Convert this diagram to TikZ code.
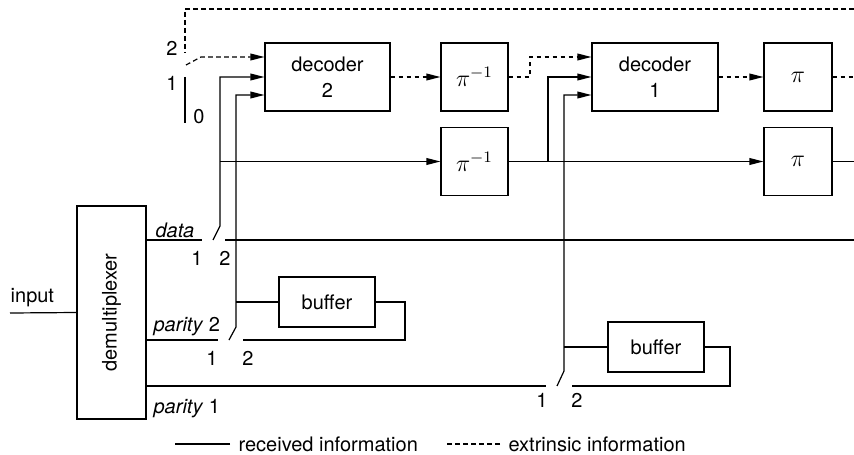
\documentclass[tikz,border=0pt]{standalone}
\usepackage{fontspec}
\setmainfont{TeX Gyre Heros}
\usetikzlibrary{arrows.meta,calc}

\begin{document}
\begin{tikzpicture}[x=0.5pt,y=-0.5pt,>={Triangle[length=7pt,width=3.4pt]},line width=0.6pt,font=\fontsize{10}{13}\selectfont,
box/.style={draw, line width=0.6pt, minimum height=34pt, align=center, inner sep=1pt},
dec/.style={box, minimum width=62.5pt},perm/.style={box, minimum width=33.5pt, font=\fontsize{12}{14}\selectfont},
buf/.style={box, minimum width=48pt, minimum height=25pt},
ext/.style={dash pattern=on 2.4pt off 1.6pt},lbl/.style={inner sep=0pt}]
\useasboundingbox (0,0) rectangle (854,454);
% blocks
\node[box, minimum width=34.5pt, minimum height=106.5pt] (demux) at (111.5,312.5) {\rotatebox{90}{demultiplexer}};
\node[dec] (dec2) at (327.5,77) {decoder\\2};
\node[perm] (pinv1) at (474.5,77) {$\pi^{-1}$};
\node[perm] (pinv2) at (474.5,161.5) {$\pi^{-1}$};
\node[dec, minimum width=63pt] (dec1) at (655,77) {decoder\\1};
\node[perm, minimum width=34pt] (pi1) at (798,77) {$\pi$};
\node[perm, minimum width=34pt] (pi2) at (798,161.5) {$\pi$};
\node[buf] (bufB) at (327,302) {buffer};
\node[buf] (bufA) at (656,347) {buffer};
% decoder input points and switch points
\coordinate (d2a) at ($(dec2.west)+(0,-20)$); \coordinate (d2c) at ($(dec2.west)+(0,18)$);
\coordinate (d1a) at ($(dec1.west)+(0,-20)$); \coordinate (d1c) at ($(dec1.west)+(0,18)$);
\coordinate (rEdge) at (854,0); \coordinate (in) at (10,313); \coordinate (top) at (185,9);
\coordinate (fbA) at (185,53); \coordinate (fbB) at (185,77); \coordinate (fbC) at (185,123);
\coordinate (fbArm) at (186,65); \coordinate (fbKnee) at (201,57);
\coordinate (dIn) at (202,240); \coordinate (dArm) at (213,240); \coordinate (dTop) at (220,226); \coordinate (dOut) at (225,240);
\coordinate (p2In) at (218,340); \coordinate (p2Arm) at (229,340); \coordinate (p2Top) at (236,327); \coordinate (p2Out) at (243,340);
\coordinate (p1In) at (546,386); \coordinate (p1Arm) at (557,386); \coordinate (p1Top) at (564,371); \coordinate (p1Out) at (572,386);
\coordinate (bBr) at (405,340); \coordinate (aBr) at (730,386); \coordinate (br1) at (548,0); \coordinate (jog) at (530,0);
% received information
\draw (in) -- (demux.west);
\draw (demux.east |- dIn) -- (dIn);
\draw[->] (dArm) -- (dTop) -- (dTop |- dec2.west) -- (dec2.west);
\draw[->] (dTop |- pinv2.west) -- (pinv2.west);
\draw (dOut) -- (dOut -| rEdge);
\draw (demux.east |- p2In) -- (p2In);
\draw[->] (p2Arm) -- (p2Top) -- (p2Top |- d2c) -- (d2c);
\draw (p2Top |- bufB.west) -- (bufB.west);
\draw (bufB.east) -| (bBr) -- (p2Out);
\draw (demux.east |- p1In) -- (p1In);
\draw[->] (p1Arm) -- (p1Top) -- (p1Top |- d1c) -- (d1c);
\draw (p1Top |- bufA.west) -- (bufA.west);
\draw (bufA.east) -| (aBr) -- (p1Out);
\draw[->] (pinv2.east) -- (pi2.west);
\draw[->] (br1 |- pinv2.east) -- (br1 |- dec1.west) -- (dec1.west);
\draw (pi2.east) -- (pi2.east -| rEdge);
% extrinsic information
\draw[ext,->] (dec2.east) -- (pinv1.west);
\draw[ext,->] (pinv1.east) -| (jog |- d1a) -- (d1a);
\draw[ext,->] (dec1.east) -- (pi1.west);
\draw[ext] (pi1.east) -- (pi1.east -| rEdge);
\draw[ext] (rEdge |- top) -- (top) -- (fbA);
\draw[ext,->] (fbArm) -- (fbKnee) -- (d2a);
\draw (fbB) -- (fbC);
% labels
\node[lbl, anchor=west] (inputlbl) at (10,298) {input};
\node[lbl, anchor=west] (datalbl) at (155,230) {\textit{data}};
\node[lbl, anchor=west] (par2lbl) at (153,327) {\textit{parity} 2};
\node[lbl, anchor=west] (par1lbl) at (153,409) {\textit{parity} 1};
\node[lbl] at (172,48) {2}; \node[lbl] at (172,83) {1}; \node[lbl] at (199,117) {0};
\node[lbl] at (197,258) {1}; \node[lbl] at (225,258) {2};
\node[lbl] at (212,358) {1}; \node[lbl] at (248,358) {2};
\node[lbl] at (542,400) {1}; \node[lbl] at (577,400) {2};
% legend
\node[lbl, anchor=west] (recv) at (238,444) {received information};
\node[lbl, anchor=west] (extr) at (508,444) {extrinsic information};
\draw ([xshift=-4pt]recv.west) -- ++(-55,0);
\draw[ext] ([xshift=-4pt]extr.west) -- ++(-55,0);
\end{tikzpicture}
\end{document}
